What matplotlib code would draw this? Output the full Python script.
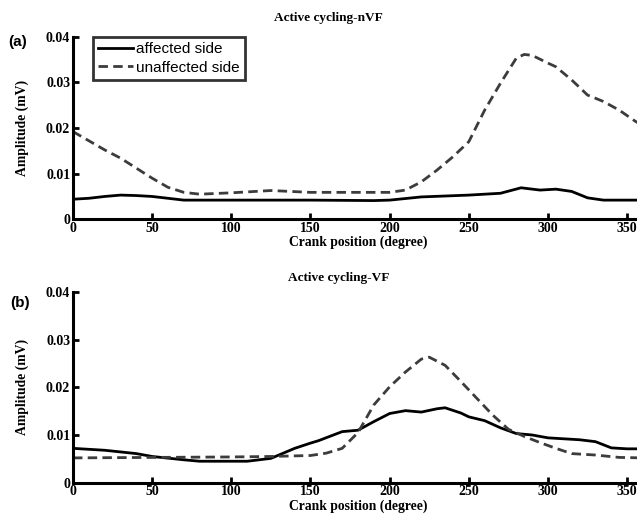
"""Amplitude vs crank position, active cycling with and without VF."""

import matplotlib

matplotlib.use("Agg")
import matplotlib.pyplot as plt

# panel (a): active cycling-nVF
crank_a_aff = [0, 10, 20, 30, 40, 50, 60, 70, 100, 150, 190, 200, 220, 250, 270,
               283, 295, 305, 315, 325, 335, 360]
amp_a_aff = [0.0044, 0.0046, 0.0050, 0.0053, 0.0052, 0.0050, 0.0046, 0.0042, 0.0042,
             0.0042, 0.0041, 0.0042, 0.0049, 0.0053, 0.0057, 0.0069, 0.0064, 0.0066,
             0.0061, 0.0047, 0.0042, 0.0042]
crank_a_unaff = [0, 10, 20, 30, 40, 50, 60, 70, 80, 100, 125, 150, 200, 210, 220, 230,
                 240, 250, 260, 270, 280, 285, 290, 300, 305, 315, 325, 335, 345, 355, 360]
amp_a_unaff = [0.0192, 0.0172, 0.0152, 0.0134, 0.0112, 0.0090, 0.0070, 0.0059, 0.0055,
               0.0058, 0.0063, 0.0059, 0.0059, 0.0064, 0.0082, 0.0108, 0.0137, 0.0170,
               0.0239, 0.0298, 0.0353, 0.0361, 0.0359, 0.0342, 0.0334, 0.0305, 0.0272,
               0.0258, 0.0239, 0.0215, 0.0205]

# panel (b): active cycling-VF
crank_b_aff = [0, 20, 40, 50, 70, 80, 110, 125, 140, 150, 155, 170, 180, 190, 200, 210,
               220, 230, 235, 245, 250, 260, 270, 280, 290, 300, 320, 330, 340, 350, 360]
amp_b_aff = [0.0072, 0.0068, 0.0061, 0.0055, 0.0048, 0.0045, 0.0045, 0.0051, 0.0072,
             0.0083, 0.0088, 0.0107, 0.0110, 0.0128, 0.0145, 0.0151, 0.0148, 0.0155,
             0.0157, 0.0146, 0.0138, 0.0130, 0.0115, 0.0103, 0.0100, 0.0094, 0.0090,
             0.0086, 0.0073, 0.0071, 0.0071]
crank_b_unaff = [0, 50, 100, 125, 150, 160, 170, 180, 190, 200, 210, 220, 225, 235, 245,
                 255, 265, 275, 285, 295, 305, 315, 330, 345, 360]
amp_b_unaff = [0.0052, 0.0053, 0.0054, 0.0055, 0.0057, 0.0062, 0.0072, 0.0105, 0.0163,
               0.0201, 0.0232, 0.0259, 0.0263, 0.0246, 0.0212, 0.0177, 0.0142, 0.0112,
               0.0097, 0.0084, 0.0072, 0.0061, 0.0058, 0.0053, 0.0052]

x_ticks = [0, 50, 100, 150, 200, 250, 300, 350]
y_ticks = [0, 0.01, 0.02, 0.03, 0.04]
y_tick_labels = ["0", "0.01", "0.02", "0.03", "0.04"]

SERIF = "Liberation Serif"
SANS = "Liberation Sans"
DASH_COLOR = "#3c3c3c"

fig = plt.figure(figsize=(6.37, 5.16), dpi=100)
ax_a = fig.add_axes([0.1146, 0.575, 0.8948, 0.354])
ax_b = fig.add_axes([0.1146, 0.0645, 0.8948, 0.370])

panels = [
    (ax_a, crank_a_aff, amp_a_aff, crank_a_unaff, amp_a_unaff),
    (ax_b, crank_b_aff, amp_b_aff, crank_b_unaff, amp_b_unaff),
]
for ax, xa, ya, xu, yu in panels:
    ax.plot(xa, ya, color="black", lw=2.0, label="affected side")
    ax.plot(xu, yu, color=DASH_COLOR, lw=2.0, dashes=(3.4, 1.9), label="unaffected side")
    ax.set_xlim(0, 360)
    ax.set_ylim(0, 0.04)
    ax.set_xticks(x_ticks)
    ax.set_yticks(y_ticks)
    ax.set_yticklabels(y_tick_labels)
    for side in ("top", "right"):
        ax.spines[side].set_visible(False)
    for side in ("left", "bottom"):
        ax.spines[side].set_linewidth(2.2)
    ax.tick_params(direction="in", length=4, width=2, pad=2)
    for lab in ax.get_xticklabels() + ax.get_yticklabels():
        lab.set_fontfamily(SERIF)
        lab.set_fontweight("bold")
        lab.set_fontsize(10)
    ax.set_xlabel("Crank position (degree)", family=SERIF, weight="bold", fontsize=9.8,
                  labelpad=0.5)
    ax.set_ylabel("Amplitude (mV)", family=SERIF, weight="bold", fontsize=9.8,
                  labelpad=12)

leg = ax_a.legend(loc="upper left", bbox_to_anchor=(0.035, 1.0), borderaxespad=0,
                  frameon=True, fancybox=False, handlelength=2.3, handletextpad=0.2,
                  borderpad=0.35, labelspacing=0.3, prop={"family": SANS, "size": 11})
leg.get_frame().set_edgecolor("black")
leg.get_frame().set_linewidth(2)

fig.text(0.515, 0.965, "Active cycling-nVF", family=SERIF, weight="bold", fontsize=9.5,
         ha="center", va="center")
fig.text(0.532, 0.461, "Active cycling-VF", family=SERIF, weight="bold", fontsize=9.5,
         ha="center", va="center")
fig.text(0.013, 0.918, "(a)", family=SANS, weight="bold", fontsize=11, va="center")
fig.text(0.016, 0.412, "(b)", family=SANS, weight="bold", fontsize=11, va="center")

fig.savefig("out.png", dpi=100)
